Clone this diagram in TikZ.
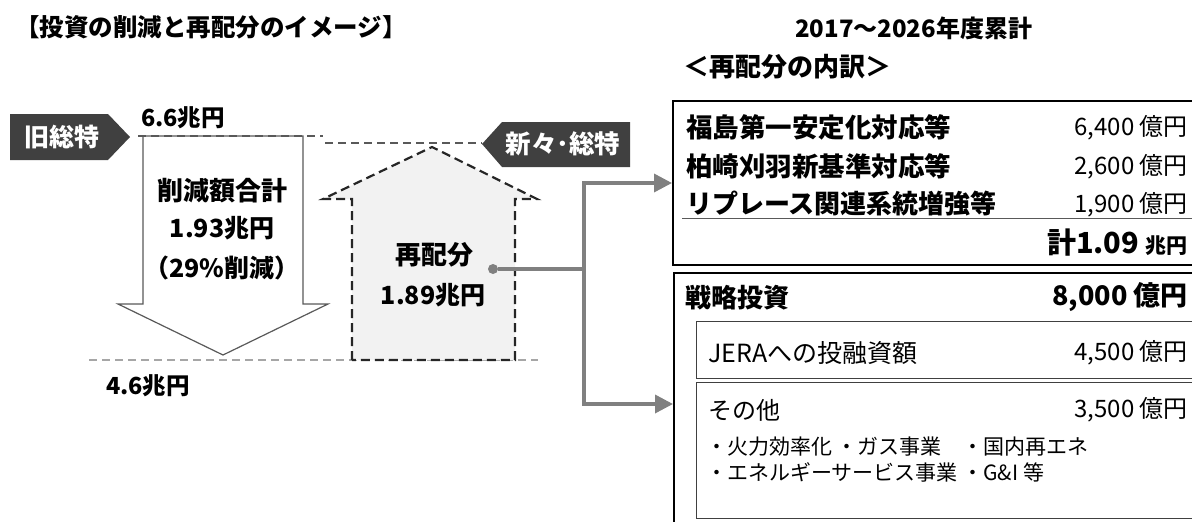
\documentclass[tikz,border=0pt]{standalone}
\usepackage{fontspec}
\setmainfont{Noto Sans CJK JP}
\usetikzlibrary{arrows.meta}
\definecolor{tagdark}{HTML}{404040}
\definecolor{linegrey}{HTML}{595959}
\definecolor{lightline}{HTML}{A6A6A6}
\definecolor{housefill}{HTML}{F2F2F2}
\definecolor{linkgrey}{HTML}{808080}
\begin{document}
\begin{tikzpicture}[x=1pt,y=-1pt,
    jpb/.style={font=\bfseries\fontsize{#1}{#1}\selectfont, inner sep=0pt},
    jpr/.style={font=\fontsize{#1}{#1}\selectfont, inner sep=0pt},
    level/.style={dash pattern=on 8pt off 5pt, line width=2pt},
    link/.style={draw=linkgrey, line width=3.5pt},
    flow/.style={link, -{Triangle[length=18pt,width=18pt]}},
    panel/.style={draw, line width=2pt, anchor=north west, minimum width=560},
    subpanel/.style={draw=tagdark, line width=1pt, anchor=north west, minimum width=540}]
    \useasboundingbox (0,0) rectangle (1192,522);
    \clip (0,0) rectangle (1192,522);

    \node[jpb=24.5, anchor=west] (title) at (15,27) {【投資の削減と再配分のイメージ】};
    \node[jpb=24, anchor=west] (period) at (795,28) {2017～2026年度累計};

    % levels
    \draw[level, lightline] (89,360) -- (538,360);
    \fill[white, draw=linegrey, line width=1.2pt] (143,136) -- (303,136) -- (303,304) -- (328,304)
        -- (223,355) -- (118,304) -- (143,304) -- cycle;
    \draw[level, linegrey] (138,136) -- (323,136);
    \draw[level, linegrey] (325,143) -- (482,143);
    \filldraw[fill=housefill, draw=black!85, dash pattern=on 9pt off 5pt, line width=2.2pt]
        (352,360) -- (352,199) -- (323,199) -- (432,147) -- (537,199) -- (515,199) -- (515,360) -- cycle;

    % tags
    \fill[tagdark] (10,114) -- (108,114) -- (130,137) -- (108,160) -- (10,160) -- cycle;
    \node[jpb=25, text=white] (oldtag) at (62,137) {旧総特};
    \fill[tagdark] (630,122) -- (502,122) -- (482,144) -- (502,167) -- (630,167) -- cycle;
    \node[jpb=25.5, text=white] (newtag) at (563,144) {新々･総特};

    \node[jpb=23.5] (top) at (183,118) {6.6兆円};
    \node[jpb=23.5] (bottom) at (148,386) {4.6兆円};
    \node[jpb=26] (cut) at (222,191) {削減額合計};
    \node[jpb=25] (cutval) at (222,228) {1.93兆円};
    \node[jpb=25] (cutpct) at (222,268) {（29\%削減）};
    \node[jpb=26] (realloc) at (434,255) {再配分};
    \node[jpb=25] (reallocval) at (433,295) {1.89兆円};

    % breakdown
    \node[jpb=26, anchor=west] (split) at (683,67) {＜再配分の内訳＞};
    \node[panel, minimum height=164] (tsum) at (672,100) {};
    \node[panel, minimum height=262] (tinv) at (673,272) {};
    \node[subpanel, minimum height=57] (jera) at (696,321) {};
    \node[subpanel, minimum height=136] (other) at (696,382) {};

    \node[jpb=26.5, anchor=west] (fk) at (686,127) {福島第一安定化対応等};
    \node[jpb=26.5, anchor=west] (kk) at (686,166) {柏崎刈羽新基準対応等};
    \node[jpb=26, anchor=west] (rp) at (686,204) {リプレース関連系統増強等};
    \node[jpr=24, anchor=east] (fkval) at (1188,128) {6,400 億円};
    \node[jpr=24, anchor=east] (kkval) at (1188,167) {2,600 億円};
    \node[jpr=24, anchor=east] (rpval) at (1188,205) {1,900 億円};
    \draw[linegrey, line width=1pt] (682,218) -- (1192,218);
    \node[anchor=east, inner sep=0pt] (sum) at (1188,243)
        {\bfseries\fontsize{29}{29}\selectfont 計1.09 \fontsize{21}{21}\selectfont 兆円};

    \node[jpb=26, anchor=west] (strat) at (685,298) {戦略投資};
    \node[jpb=27, anchor=east] (stratval) at (1188,297) {8,000 億円};
    \node[jpr=25, anchor=west] (jeratxt) at (708,353) {JERAへの投融資額};
    \node[jpr=24, anchor=east] (jeraval) at (1188,353) {4,500 億円};
    \node[jpr=24, anchor=west] (othertxt) at (708,410) {その他};
    \node[jpr=24, anchor=east] (otherval) at (1188,410) {3,500 億円};
    \node[jpr=21, anchor=west] (items1) at (706,447) {・火力効率化 ・ガス事業　・国内再エネ};
    \node[jpr=21, anchor=west] (items2) at (706,472) {・エネルギーサービス事業 ・G\&I 等};

    % connectors
    \node[circle, fill=linkgrey, minimum size=10pt, inner sep=0pt] (dot) at (493,269) {};
    \coordinate (fork) at (584,269);
    \draw[link] (dot) -- (fork);
    \draw[flow] (fork) |- (tsum.west);
    \draw[flow] (fork) |- (tinv.west);
\end{tikzpicture}
\end{document}
